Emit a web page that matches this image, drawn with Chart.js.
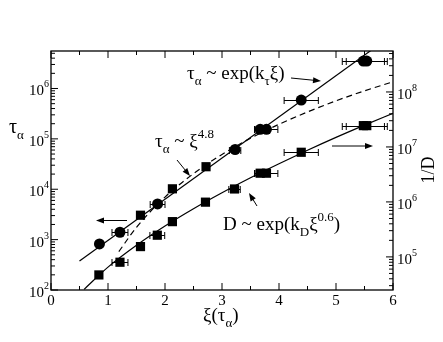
<!DOCTYPE html>
<html>
<head>
<meta charset="utf-8">
<script src="https://cdn.jsdelivr.net/npm/chart.js@4.4.0/dist/chart.umd.min.js"></script>
<style>
html, body { margin: 0; padding: 0; background: #fff; }
canvas { display: block; }
</style>
</head>
<body>
<canvas id="myChart" width="443" height="342"></canvas>
<script>
// tau_alpha vs xi (left axis)
var tauXi  = [0.85, 1.21, 1.57, 1.87, 2.13, 2.72, 3.23, 3.67, 3.78, 4.39, 5.48, 5.54];
var tauVal = [820, 1400, 3050, 5100, 10200, 28000, 61500, 155000, 155000, 590000, 3.5e6, 3.5e6];
var tauErr = [0, 0.14, 0, 0.13, 0, 0, 0.1, 0.1, 0.2, 0.3, 0.37, 0.36];
var tauShape = ['circle', 'circle', 'rect', 'circle', 'rect', 'rect', 'circle', 'circle', 'circle', 'circle', 'circle', 'circle'];

// 1/D vs xi (right axis)
var dXi  = [0.84, 1.21, 1.57, 1.865, 2.13, 2.71, 3.22, 3.67, 3.78, 4.39, 5.48, 5.54];
var dVal = [47000, 80000, 154000, 248000, 438000, 990000, 1.72e6, 3.33e6, 3.33e6, 8.0e6, 2.44e7, 2.44e7];
var dErr = [0, 0.14, 0, 0.13, 0, 0, 0.1, 0.1, 0.2, 0.3, 0.37, 0.36];

// fit curves
var tauExpFitXi  = [0.5, 5.8];
var tauExpFitVal = [376, 8.1e6];
var tauPowFitXi  = [1.19, 1.5, 2, 2.5, 3, 3.5, 4, 4.5, 5, 5.5, 6];
var tauPowFitVal = [579, 1760, 6990, 20400, 49000, 102800, 194800, 342000, 569000, 899000, 1.36e6];
var dFitXi  = [0.58, 1, 1.5, 2, 2.5, 3, 3.5, 4, 4.5, 5, 5.5, 6];
var dFitVal = [25700, 65200, 163000, 365000, 753000, 1.47e6, 2.75e6, 4.95e6, 8.69e6, 1.49e7, 2.49e7, 4.10e7];

// ticks
var xTickLabels = ['0', '1', '2', '3', '4', '5', '6'];
var tauTickExps = [2, 3, 4, 5, 6];
var dTickExps   = [5, 6, 7, 8];

function pts(xs, ys) {
  return xs.map(function (x, i) { return { x: x, y: ys[i] }; });
}

var SERIF = '"Liberation Serif", "DejaVu Serif", serif';

function drawRich(ctx, parts, x, y, size) {
  var small = Math.round(size * 0.66);
  ctx.textAlign = 'left';
  ctx.textBaseline = 'alphabetic';
  parts.forEach(function (p) {
    var mode = p[1] || 0;
    var fs = mode ? small : size;
    var dy = mode === 1 ? size * 0.3 : (mode === 2 ? -size * 0.45 : 0);
    ctx.font = fs + 'px ' + SERIF;
    ctx.fillText(p[0], x, y + dy);
    x += ctx.measureText(p[0]).width;
  });
  return x;
}

function arrow(ctx, x1, y1, x2, y2) {
  var a = Math.atan2(y2 - y1, x2 - x1);
  ctx.beginPath();
  ctx.moveTo(x1, y1);
  ctx.lineTo(x2 - 6 * Math.cos(a), y2 - 6 * Math.sin(a));
  ctx.stroke();
  ctx.beginPath();
  ctx.moveTo(x2, y2);
  ctx.lineTo(x2 - 8 * Math.cos(a) + 3 * Math.sin(a), y2 - 8 * Math.sin(a) - 3 * Math.cos(a));
  ctx.lineTo(x2 - 8 * Math.cos(a) - 3 * Math.sin(a), y2 - 8 * Math.sin(a) + 3 * Math.cos(a));
  ctx.closePath();
  ctx.fill();
}

function logTicks(scale) {
  var out = [];
  var lo = Math.floor(Math.log10(scale.min)), hi = Math.ceil(Math.log10(scale.max));
  for (var e = lo; e <= hi; e++) {
    for (var m = 1; m <= 9; m++) {
      var v = m * Math.pow(10, e);
      if (v >= scale.min && v <= scale.max) out.push({ v: v, major: m === 1 });
    }
  }
  return out;
}

// error bars under the markers
var errorBars = {
  id: 'errorBars',
  beforeDatasetsDraw: function (chart) {
    var ctx = chart.ctx, x = chart.scales.x;
    ctx.save();
    ctx.strokeStyle = '#000';
    ctx.lineWidth = 1;
    function bars(xs, ys, errs, ys_scale) {
      xs.forEach(function (xv, i) {
        if (!errs[i]) return;
        var py = Math.round(ys_scale.getPixelForValue(ys[i])) + 0.5;
        var a = x.getPixelForValue(xv - errs[i]), b = x.getPixelForValue(xv + errs[i]);
        ctx.beginPath();
        ctx.moveTo(a, py); ctx.lineTo(b, py);
        ctx.moveTo(a, py - 3.5); ctx.lineTo(a, py + 3.5);
        ctx.moveTo(b, py - 3.5); ctx.lineTo(b, py + 3.5);
        ctx.stroke();
      });
    }
    bars(tauXi, tauVal, tauErr, chart.scales.y);
    bars(dXi, dVal, dErr, chart.scales.y2);
    ctx.restore();
  }
};

// frame, inward ticks, tick labels, titles and notes
var frame = {
  id: 'frame',
  afterDraw: function (chart) {
    var ctx = chart.ctx, a = chart.chartArea;
    var x = chart.scales.x, yl = chart.scales.y, yr = chart.scales.y2;
    ctx.save();
    ctx.strokeStyle = '#000';
    ctx.fillStyle = '#000';
    ctx.lineWidth = 1.3;
    ctx.strokeRect(a.left, a.top, a.right - a.left, a.bottom - a.top);

    ctx.lineWidth = 1;
    ctx.beginPath();
    for (var v = 0; v <= 6.001; v += 0.5) {
      var px = x.getPixelForValue(v);
      var len = Math.abs(v - Math.round(v)) < 0.01 ? 7 : 4;
      ctx.moveTo(px, a.bottom); ctx.lineTo(px, a.bottom - len);
      ctx.moveTo(px, a.top); ctx.lineTo(px, a.top + len);
    }
    logTicks(yl).forEach(function (t) {
      var py = yl.getPixelForValue(t.v);
      ctx.moveTo(a.left, py); ctx.lineTo(a.left + (t.major ? 7 : 4), py);
    });
    logTicks(yr).forEach(function (t) {
      var py = yr.getPixelForValue(t.v);
      ctx.moveTo(a.right, py); ctx.lineTo(a.right - (t.major ? 7 : 4), py);
    });
    ctx.stroke();

    // tick labels
    ctx.textBaseline = 'alphabetic';
    ctx.font = '15px ' + SERIF;
    ctx.textAlign = 'center';
    xTickLabels.forEach(function (s) {
      ctx.fillText(s, x.getPixelForValue(+s), a.bottom + 15);
    });
    tauTickExps.forEach(function (e) {
      var py = yl.getPixelForValue(Math.pow(10, e));
      ctx.font = '10px ' + SERIF;
      var ew = ctx.measureText(String(e)).width;
      ctx.textAlign = 'right';
      ctx.fillText(String(e), 49, py - 1);
      ctx.font = '15px ' + SERIF;
      ctx.fillText('10', 49 - ew, py + 7);
    });
    dTickExps.forEach(function (e) {
      var py = yr.getPixelForValue(Math.pow(10, e));
      ctx.textAlign = 'left';
      ctx.font = '15px ' + SERIF;
      ctx.fillText('10', 397, py + 7);
      var w = ctx.measureText('10').width;
      ctx.font = '10px ' + SERIF;
      ctx.fillText(String(e), 397 + w, py - 1);
    });

    // axis titles
    drawRich(ctx, [['τ'], ['α', 1]], 9, 133, 20);
    drawRich(ctx, [['ξ(τ'], ['α', 1], [')']], 203, 321, 19);
    ctx.save();
    ctx.translate(434, 170);
    ctx.rotate(-Math.PI / 2);
    ctx.font = '18px ' + SERIF;
    ctx.textAlign = 'center';
    ctx.fillText('1/D', 0, 0);
    ctx.restore();

    // notes and arrows
    drawRich(ctx, [['τ'], ['α', 1], [' ~ exp(k'], ['τ', 1], ['ξ)']], 187, 79, 19);
    drawRich(ctx, [['τ'], ['α', 1], [' ~ ξ'], ['4.8', 2]], 155, 147, 19);
    drawRich(ctx, [['D ~ exp(k'], ['D', 1], ['ξ'], ['0.6', 2], [')']], 223, 230, 19);
    ctx.lineWidth = 1;
    arrow(ctx, 291, 78, 321, 81);
    arrow(ctx, 177, 160, 190, 176);
    arrow(ctx, 257, 206, 249, 193);
    arrow(ctx, 127, 220.5, 96, 220.5);
    arrow(ctx, 332, 146, 373, 146);
    ctx.restore();
  }
};

var ctx = document.getElementById('myChart');
var myChart = new Chart(ctx, {
  type: 'scatter',
  data: {
    datasets: [{
      label: 'tau exp fit',
      data: pts(tauExpFitXi, tauExpFitVal),
      showLine: true, pointRadius: 0, borderColor: '#000', borderWidth: 1.2,
      yAxisID: 'y'
    }, {
      label: 'tau power fit',
      data: pts(tauPowFitXi, tauPowFitVal),
      showLine: true, pointRadius: 0, borderColor: '#000', borderWidth: 1.2,
      borderDash: [6, 4], cubicInterpolationMode: 'monotone',
      yAxisID: 'y'
    }, {
      label: 'D fit',
      data: pts(dFitXi, dFitVal),
      showLine: true, pointRadius: 0, borderColor: '#000', borderWidth: 1.2,
      cubicInterpolationMode: 'monotone',
      yAxisID: 'y2'
    }, {
      label: 'tau',
      data: pts(tauXi, tauVal),
      pointStyle: tauShape,
      pointRadius: tauShape.map(function (s) { return s === 'rect' ? 6.5 : 5.5; }),
      pointBackgroundColor: '#000', pointBorderColor: '#000', pointBorderWidth: 0,
      yAxisID: 'y'
    }, {
      label: '1/D',
      data: pts(dXi, dVal),
      pointStyle: 'rect', pointRadius: 6.5,
      pointBackgroundColor: '#000', pointBorderColor: '#000', pointBorderWidth: 0,
      yAxisID: 'y2'
    }]
  },
  options: {
    responsive: false,
    animation: false,
    layout: { padding: { top: 51, left: 0, right: 0, bottom: 0 } },
    plugins: { legend: { display: false }, tooltip: { enabled: false } },
    scales: {
      x: {
        type: 'linear', min: 0, max: 6,
        grid: { display: false }, border: { display: false }, ticks: { display: false },
        afterFit: function (s) { s.height = 52; }
      },
      y: {
        type: 'logarithmic', position: 'left', min: 100, max: 5.55e6,
        grid: { display: false }, border: { display: false }, ticks: { display: false },
        afterFit: function (s) { s.width = 51; }
      },
      y2: {
        type: 'logarithmic', position: 'right', min: 2.5e4, max: 5.56e8,
        grid: { display: false }, border: { display: false }, ticks: { display: false },
        afterFit: function (s) { s.width = 50; }
      }
    }
  },
  plugins: [errorBars, frame]
});
</script>
</body>
</html>
